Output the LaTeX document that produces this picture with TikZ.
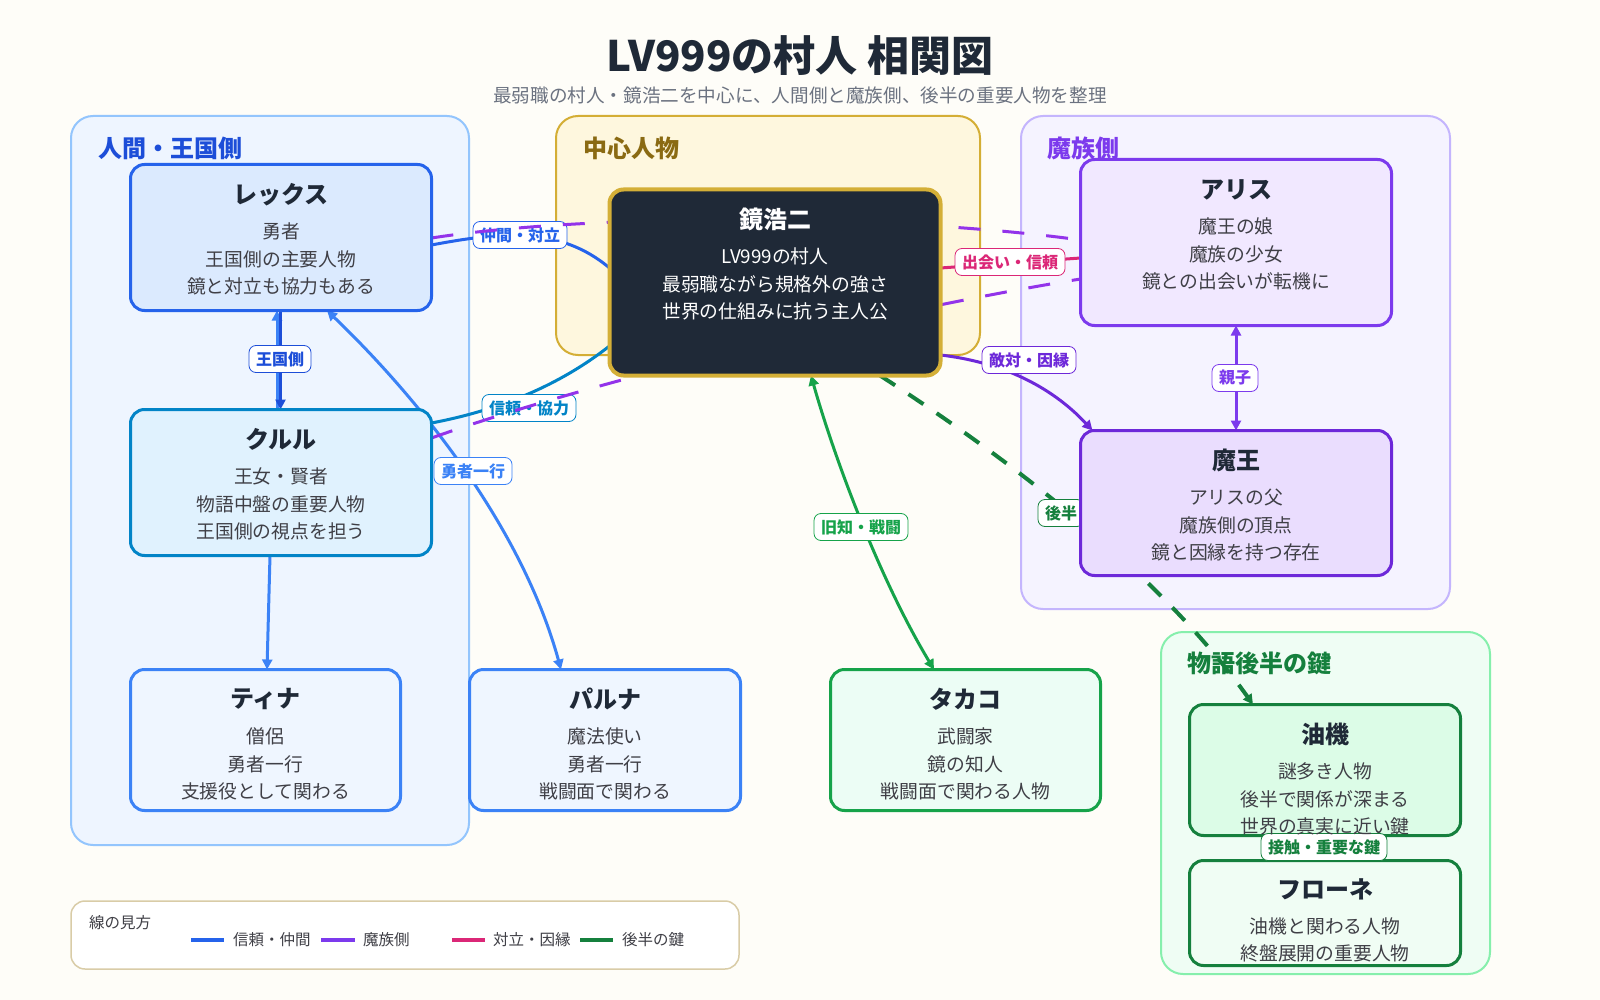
\documentclass[tikz,border=0pt]{standalone}
\usepackage{fontspec}
\setmainfont{Noto Sans CJK JP}
\usetikzlibrary{arrows.meta,calc}
\definecolor{bgc}{HTML}{FEFDF8}
\definecolor{ink}{HTML}{1F2937}
\definecolor{bodyc}{HTML}{3F3F46}
\definecolor{subc}{HTML}{6B7280}
\definecolor{gLfill}{HTML}{EEF5FF}\definecolor{gLdraw}{HTML}{93C5FD}\definecolor{gLtxt}{HTML}{1D4ED8}
\definecolor{gCfill}{HTML}{FEF7DE}\definecolor{gCdraw}{HTML}{D4AE35}\definecolor{gCtxt}{HTML}{8A6A12}
\definecolor{gRfill}{HTML}{F5F3FF}\definecolor{gRdraw}{HTML}{C4B5FD}\definecolor{gRtxt}{HTML}{7C3AED}
\definecolor{gGfill}{HTML}{EFFDF4}\definecolor{gGdraw}{HTML}{86EFAC}\definecolor{gGtxt}{HTML}{15803D}
\definecolor{blueA}{HTML}{2563EB}\definecolor{blueB}{HTML}{3B82F6}\definecolor{blueC}{HTML}{1D4ED8}
\definecolor{teal}{HTML}{0284C7}
\definecolor{purA}{HTML}{7C3AED}\definecolor{purB}{HTML}{6D28D9}\definecolor{purD}{HTML}{9333EA}
\definecolor{pinkA}{HTML}{DB2777}
\definecolor{grnA}{HTML}{16A34A}\definecolor{grnB}{HTML}{15803D}
\definecolor{gold}{HTML}{D4AF37}\definecolor{navy}{HTML}{1F2937}
\definecolor{legdraw}{HTML}{D9CCA7}
\definecolor{fRex}{HTML}{DBEAFE}\definecolor{fKur}{HTML}{E0F2FE}\definecolor{fParty}{HTML}{EFF6FF}
\definecolor{fTak}{HTML}{ECFDF5}\definecolor{fAli}{HTML}{F1E8FF}\definecolor{fMao}{HTML}{EADDFE}
\definecolor{fYuk}{HTML}{DCFCE7}\definecolor{fFro}{HTML}{F0FDF4}
\tikzset{
  grp/.style={draw, line width=2pt, rounded corners=22pt, inner sep=0pt},
  glab/.style={anchor=west, font=\fontsize{24}{24}\selectfont\bfseries},
  pbox/.style={draw, line width=3pt, rounded corners=14pt, inner sep=0pt},
  ttl/.style={font=\fontsize{24}{24}\selectfont\bfseries, text=ink, inner sep=0pt},
  bd/.style={font=\fontsize{18.8}{18.8}\selectfont, text=bodyc, inner sep=0pt},
  elab/.style={fill=white, draw, line width=0.8pt, rounded corners=7pt, font=\fontsize{16}{16}\selectfont\bfseries, inner xsep=7pt, inner ysep=0pt, minimum height=27pt},
  ln/.style={line width=3pt},
  tp/.tip={Triangle[length=10pt,width=10pt]},
  legt/.style={anchor=west, font=\fontsize{15.5}{15.5}\selectfont, text=bodyc, inner sep=0pt}
}
\newcommand\ptext[6]{%
  \node[ttl,#6] at ([yshift=-30pt]#1.north) {#2};
  \node[bd,#6] at ([yshift=-67pt]#1.north) {#3};
  \node[bd,#6] at ([yshift=-94.5pt]#1.north) {#4};
  \node[bd,#6] at ([yshift=-122pt]#1.north) {#5};}
\begin{document}
\begin{tikzpicture}[x=1pt,y=-1pt]
\useasboundingbox (0,0) rectangle (1600,1000);
\fill[bgc] (0,0) rectangle (1600,1000);
% title
\node[text=ink, font=\fontsize{42}{42}\selectfont\bfseries] (title) at (800,56) {LV999の村人 相関図};
\node[text=subc, font=\fontsize{18.6}{18.6}\selectfont] (subtitle) at (800,95) {最弱職の村人・鏡浩二を中心に、人間側と魔族側、後半の重要人物を整理};
% groups
\node[grp, draw=gLdraw, fill=gLfill, minimum width=398, minimum height=729] (gleft) at (270,480.5) {};
\node[grp, draw=gCdraw, fill=gCfill, minimum width=424, minimum height=239] (gcent) at (768,235.5) {};
\node[grp, draw=gRdraw, fill=gRfill, minimum width=429, minimum height=493] (gright) at (1235.5,362.5) {};
\node[grp, draw=gGdraw, fill=gGfill, minimum width=329, minimum height=342] (ggreen) at (1325.5,803) {};
\node[glab, text=gLtxt] (glabL) at (95,148) {人間・王国側};
\node[glab, text=gCtxt] (glabC) at (580,148) {中心人物};
\node[glab, text=gRtxt] (glabR) at (1044,148) {魔族側};
\node[glab, text=gGtxt] (glabG) at (1184,663) {物語後半の鍵};
% person box frames (named, drawn later)
\node[pbox, draw=none, minimum width=298, minimum height=143] (rex) at (281,237.5) {};
\node[pbox, draw=none, minimum width=298, minimum height=143] (kurul) at (281,482.5) {};
\node[pbox, draw=none, minimum width=267, minimum height=138] (tina) at (265.5,740) {};
\node[pbox, draw=none, minimum width=268, minimum height=138] (parna) at (605,740) {};
\node[pbox, draw=none, minimum width=267, minimum height=138] (takako) at (965.5,740) {};
\node[pbox, draw=none, minimum width=328, minimum height=183] (center) at (775,282.5) {};
\node[pbox, draw=none, minimum width=308, minimum height=163] (alice) at (1236,242.5) {};
\node[pbox, draw=none, minimum width=308, minimum height=142] (maou) at (1236,503) {};
\node[pbox, draw=none, minimum width=268, minimum height=128] (yuki) at (1325,770) {};
\node[pbox, draw=none, minimum width=268, minimum height=102] (frone) at (1325,913) {};
% solid edges
\draw[ln, blueA] (rex.east |- 0,245) .. controls (500,232) and (560,226) .. (center.west |- 0,268);
\node[elab, draw=blueA, text=blueA] (l1) at (520,235) {仲間・対立};
\draw[ln, pinkA] (center.east |- 0,268) -- (alice.west |- 0,258);
\node[elab, draw=pinkA, text=pinkA] (l2) at (1010,262) {出会い・信頼};
\draw[ln, purB, -tp] (center.east |- 0,355) .. controls (1000,362) and (1050,385) .. ([xshift=12pt]maou.north west);
\node[elab, draw=purB, text=purB] (l3) at (1029,360) {敵対・因縁};
\draw[ln, purA, tp-tp] (alice.south) -- (maou.north);
\node[elab, draw=purA, text=purA] (l4) at (1235,378) {親子};
\draw[ln, blueB, -tp] ([xshift=-4pt]kurul.north) -- ([xshift=-4pt]rex.south);
\draw[ln, blueC, -tp] ([xshift=-0.5pt]rex.south) -- ([xshift=-0.5pt]kurul.north);
\node[elab, draw=blueC, text=blueC] (l5) at (280,359) {王国側};
\draw[ln, teal] (kurul.east |- 0,423) .. controls (500,410) and (560,385) .. (center.west |- 0,346);
\node[elab, draw=teal, text=teal] (l6) at (529,408) {信頼・協力};
\draw[ln, blueB, tp-tp] (327,0 |- rex.south) .. controls (410,390) and (520,520) .. (561,0 |- parna.north);
\node[elab, draw=blueB, text=blueB] (l7) at (473,471) {勇者一行};
\draw[ln, blueB, -tp] (270,0 |- kurul.south) -- (267,0 |- tina.north);
\draw[ln, grnA, tp-tp] (811,0 |- center.south) .. controls (835,460) and (880,580) .. (934,0 |- takako.north);
\node[elab, draw=grnA, text=grnA] (l8) at (861,527) {旧知・戦闘};
\draw[line width=4pt, grnB, dash pattern=on 18pt off 16pt, -tp] (880,0 |- center.south) .. controls (980,440) and (1150,560) .. (1253,0 |- yuki.north);
\node[elab, draw=grnB, text=grnB] (l9) at (1061,513) {後半};
\draw[ln, grnB] (yuki.south) -- (frone.north);
% dashed purple edges
\draw[line width=3pt, purD, dash pattern=on 22pt off 22pt] (rex.east |- 0,238) .. controls (600,212) and (900,215) .. (alice.west |- 0,240);
\draw[line width=3pt, purD, dash pattern=on 22pt off 22pt] (kurul.east |- 0,438) .. controls (600,378) and (900,308) .. (alice.west |- 0,279);
% person boxes
\draw[pbox, draw=blueA, fill=fRex] (rex.south west) rectangle (rex.north east);
\draw[pbox, draw=teal, fill=fKur] (kurul.south west) rectangle (kurul.north east);
\draw[pbox, draw=blueB, fill=fParty] (tina.south west) rectangle (tina.north east);
\draw[pbox, draw=blueB, fill=fParty] (parna.south west) rectangle (parna.north east);
\draw[pbox, draw=grnA, fill=fTak] (takako.south west) rectangle (takako.north east);
\draw[pbox, line width=4pt, draw=gold, fill=navy] (center.south west) rectangle (center.north east);
\draw[pbox, draw=purA, fill=fAli] (alice.south west) rectangle (alice.north east);
\draw[pbox, draw=purB, fill=fMao] (maou.south west) rectangle (maou.north east);
\draw[pbox, draw=grnB, fill=fYuk] (yuki.south west) rectangle (yuki.north east);
\draw[pbox, draw=grnB, fill=fFro] (frone.south west) rectangle (frone.north east);
\node[elab, draw=grnB, text=grnB] (l10) at (1324,847) {接触・重要な鍵};
% texts
\ptext{rex}{レックス}{勇者}{王国側の主要人物}{鏡と対立も協力もある}{}
\ptext{kurul}{クルル}{王女・賢者}{物語中盤の重要人物}{王国側の視点を担う}{}
\ptext{tina}{ティナ}{僧侶}{勇者一行}{支援役として関わる}{}
\ptext{parna}{パルナ}{魔法使い}{勇者一行}{戦闘面で関わる}{}
\ptext{takako}{タカコ}{武闘家}{鏡の知人}{戦闘面で関わる人物}{}
\ptext{center}{鏡浩二}{LV999の村人}{最弱職ながら規格外の強さ}{世界の仕組みに抗う主人公}{text=white}
\ptext{alice}{アリス}{魔王の娘}{魔族の少女}{鏡との出会いが転機に}{}
\ptext{maou}{魔王}{アリスの父}{魔族側の頂点}{鏡と因縁を持つ存在}{}
\ptext{yuki}{油機}{謎多き人物}{後半で関係が深まる}{世界の真実に近い鍵}{}
\node[ttl] at ([yshift=-29pt]frone.north) {フローネ};
\node[bd] at ([yshift=-66pt]frone.north) {油機と関わる人物};
\node[bd] at ([yshift=-93pt]frone.north) {終盤展開の重要人物};
% legend
\node[draw=legdraw, line width=1.5pt, fill=white, rounded corners=14pt, minimum width=668, minimum height=68, inner sep=0pt] (legend) at (405,935) {};
\node[legt] (legtitle) at (89,923) {線の見方};
\draw[line width=4pt, blueA] (191,940) -- (224,940);
\node[legt] at (233,940) {信頼・仲間};
\draw[line width=4pt, purA] (321,940) -- (355,940);
\node[legt] at (363,940) {魔族側};
\draw[line width=4pt, pinkA] (452,940) -- (485,940);
\node[legt] at (493,940) {対立・因縁};
\draw[line width=4pt, grnB] (580,940) -- (613,940);
\node[legt] at (622,940) {後半の鍵};
\end{tikzpicture}
\end{document}
